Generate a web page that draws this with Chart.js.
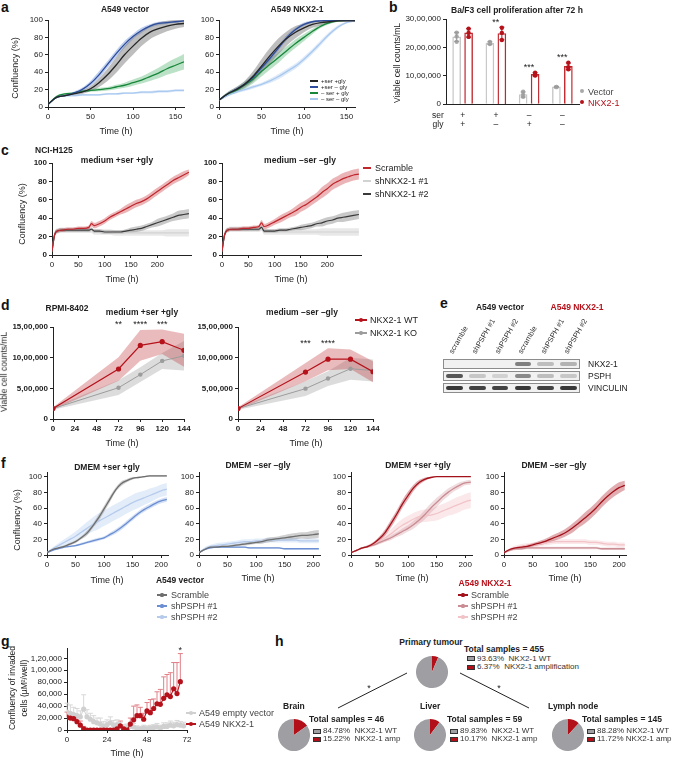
<!DOCTYPE html>
<html>
<head>
<meta charset="utf-8">
<script src="https://cdn.jsdelivr.net/npm/chart.js@4.4.1/dist/chart.umd.min.js"></script>
<style>
  body { margin: 0; background: #fff; }
  #fig { position: relative; width: 676px; height: 758px; overflow: hidden; font-family: "Liberation Sans", Arial, sans-serif; color: #222; }
  #fig canvas { position: absolute; }
  #fig .t { position: absolute; white-space: pre; line-height: 1; }
  #fig .box { position: absolute; box-sizing: border-box; }
</style>
</head>
<body>
<div id="fig"></div>
<script>
// ---------- panel a: A549 confluency ----------
const aTime = [0,10,20,30,40,50,60,70,80,90,100,110,120,130,140,150,160];
const aLegend = ['+ser +gly', '+ser \u2013 gly', '\u2013 ser + gly', '\u2013 ser \u2013 gly'];
const aVecSG   = [3,11,13,15,17,21,28,37,48,60,70,79,86,90,93,95,96];
const aVecSGsd = [1,1,1,1.5,2,3,5,7,9,10,10,9,8,7,6,5,4];
const aVecS    = [3,11,13,16,20,27,37,49,61,72,81,88,93,96,97,98,99];
const aVecSsd  = [1,1,1,1.5,2,3,4,4,4,4,3,3,2,2,1.5,1,1];
const aVecG    = [3,12,15,16,18,19,20,21,23,25,28,31,35,39,44,48,52];
const aVecGsd  = [1,1,1,1,1,1.5,2,2,2.5,3,3.5,4,5,6,7,8,9];
const aVecN    = [3,11,13,13,14,14,14,15,15,16,16,17,17,18,18,19,19];
const aVecNsd  = [1,1,1,1,1,1,1,1,1,1,1,1.5,1.5,1.5,1.5,1.5,1.5];
const aNkxSG   = [8,15,20,26,35,47,59,70,79,86,91,95,97,98,99,99,99];
const aNkxSGsd = [1,2,3,4,6,8,9,9,8,7,5,4,3,2,1,1,1];
const aNkxS    = [8,15,20,26,34,45,56,68,80,89,95,98,99,99.5,99.5,99.5,99.5];
const aNkxSsd  = [1,1,2,2,3,3,3,3,3,2,2,1,1,0.5,0.5,0.5,0.5];
const aNkxG    = [8,15,19,25,32,41,49,57,65,73,80,87,93,97,99,99.5,99.5];
const aNkxGsd  = [1,2,3,4,5,6,6,6,5,5,4,3,2,1.5,1,0.5,0.5];
const aNkxN    = [8,13,17,20,23,26,30,35,41,47,55,64,74,84,92,97,99];
const aNkxNsd  = [1,1,1.5,2,2,2,2.5,3,3,3,3,3,3,2.5,2,1,1];

// ---------- panel b: Ba/F3 counts ----------
const bGroups = ['+ser +gly', '+ser -gly', '-ser +gly', '-ser -gly'];
const bSer = ['+', '+', '\u2013', '\u2013'];
const bGly = ['+', '\u2013', '+', '\u2013'];
const bVector = [2370000, 2150000, 340000, 610000];
const bVectorSd = [160000, 50000, 90000, 10000];
const bNkx = [2510000, 2490000, 1050000, 1330000];
const bNkxSd = [150000, 220000, 60000, 120000];
const bVectorDots = [[2520000,2380000,2200000],[2190000,2150000,2120000],[440000,330000,260000],[610000,610000,600000]];
const bNkxDots = [[2660000,2510000,2370000],[2690000,2510000,2260000],[1110000,1030000,1010000],[1460000,1300000,1230000]];
const bStars = ['', '**', '***', '***'];
const bYTicks = [0, 1000000, 2000000, 3000000];

// ---------- panel c: NCI-H125 ----------
const cTime = [0,5,10,20,30,40,50,60,70,75,80,90,100,110,120,130,140,150,160,170,180,190,200,210,220,230,240,250,260];
const cLegend = ['Scramble', 'shNKX2-1 #1', 'shNKX2-1 #2'];
const cScrL   = [4,22,26,27,28,28,29,29,30,34,32,34,37,41,44,47,50,53,56,58,61,65,69,73,77,81,84,87,90];
const cScrLsd = [1,2,2,2,2,2,2,2,2,3,3,3,3,3,3,3,4,4,4,4,4,4,4,4,4,4,4,4,3];
const cSh1L   = [4,22,26,27,27,27,27,27,27,27,25,25,25,25,24,24,24,24,24,24,24,24,24,24,24,24,24,24,24];
const cSh1Lsd = [1,3,3,3,3,3,3,3,3,3,3,3,3,3,3,3,3,3,3,3,3,3,3,3,4,4,4,4,4];
const cSh2L   = [4,22,26,27,27,27,27,27,27,28,26,26,25,25,25,25,26,27,28,29,31,33,35,37,39,41,43,44,45];
const cSh2Lsd = [1,2,2,2,2,2,2,2,2,2,2,2,2,2,2,2,2,3,3,3,3,3,4,4,4,4,5,5,5];
const cScrR   = [4,22,27,28,28,29,29,30,31,35,31,33,36,39,42,45,48,52,55,59,63,68,72,77,80,83,85,87,88];
const cScrRsd = [1,2,2,2,2,2,2,2,2,3,3,3,3,4,4,4,5,5,5,5,5,6,6,6,6,6,6,6,6];
const cSh1R   = [4,22,27,28,28,28,28,28,28,29,25,25,25,25,25,25,25,25,25,25,25,25,25,25,25,25,25,25,25];
const cSh1Rsd = [1,3,3,3,3,3,3,3,3,3,3,3,3,3,3,3,3,3,3,3,3,4,4,4,4,4,4,4,4];
const cSh2R   = [4,22,27,28,28,28,28,28,28,30,26,26,26,27,27,28,29,30,31,32,34,35,37,38,40,41,42,43,44];
const cSh2Rsd = [1,2,2,2,2,2,2,2,2,2,2,2,2,2,2,2,2,3,3,3,3,4,4,4,4,5,5,5,5];

// ---------- panel d: RPMI-8402 ----------
const dTime = [0, 72, 96, 120, 144];
const dLegend = ['NKX2-1 WT', 'NKX2-1 KO'];
const dWtPlus    = [170000, 815000, 1200000, 1260000, 1120000];
const dWtPlusSd  = [20000, 190000, 250000, 200000, 270000];
const dKoPlus    = [170000, 510000, 724000, 947000, 1030000];
const dKoPlusSd  = [20000, 120000, 120000, 130000, 240000];
const dWtMinus   = [170000, 765000, 975000, 975000, 770000];
const dWtMinusSd = [20000, 150000, 180000, 160000, 170000];
const dKoMinus   = [170000, 495000, 660000, 820000, 790000];
const dKoMinusSd = [20000, 120000, 120000, 180000, 180000];
const dStarsPlus  = ['', '**', '****', '***', ''];
const dStarsMinus = ['', '***', '****', '', ''];
const dYTicks = [0, 500000, 1000000, 1500000];
const dXTicks = [0, 24, 48, 72, 96, 120, 144];

// ---------- panel e: blot ----------
const eLanes = ['scramble', 'shPSPH #1', 'shPSPH #2', 'scramble', 'shPSPH #1', 'shPSPH #2'];
const eRows = ['NKX2-1', 'PSPH', 'VINCULIN'];
const eSignal = [[0,0,0,0.55,0.25,0.3],[0.75,0.2,0.15,0.5,0.25,0.2],[0.9,0.85,0.85,0.9,0.85,0.9]];

// ---------- panel f: shPSPH confluency ----------
const fTime = [0,10,20,30,40,50,60,70,80,90,100,110,120,130,140,150,160,170,180,190,200,210];
const fLegend = ['Scramble', 'shPSPH #1', 'shPSPH #2'];
const f1Scr   = [3,7,9,11,14,17,22,28,37,47,59,71,83,91,95,98,99,100,101,101,101,101];
const f1ScrSd = [0.5,1,1,1,1.5,2,2,3,3,4,4,4,3,3,2,1.5,1,1,1,1,1,1];
const f1Sh1   = [3,6,8,10,11,12,14,16,18,20,22,26,30,35,41,47,53,58,62,66,69,71];
const f1Sh1Sd = [0.5,1,1,1,1,1,1.5,1.5,2,2,2,2.5,3,3,3,3,3,3,3,3,3,3];
const f1Sh2   = [3,8,12,16,20,24,29,34,39,43,47,51,55,59,63,67,70,73,76,79,82,84];
const f1Sh2Sd = [1,2,3,4,5,6,7,8,9,10,10,10,10,10,10,10,10,9,9,8,8,8];
const f2Scr   = [3,7,10,10,11,11,12,13,14,15,16,17,19,20,21,22,23,24,25,25,26,27];
const f2ScrSd = [0.5,1,1,1,1,1,1.5,1.5,2,2,2,2.5,3,3,3,3.5,4,4,4,4.5,5,5];
const f2Sh1   = [3,7,9,10,10,10,10,10,10,9,9,9,9,9,9,8,8,8,8,8,8,8];
const f2Sh1Sd = [0.5,1,1,1,1,1,1,1,1,1,1,1,1,1,1,1,1,1,1,1,1,1];
const f2Sh2   = [3,8,11,12,13,14,15,16,17,17,18,18,19,19,19,19,19,19,18,18,18,18];
const f2Sh2Sd = [1,2,2,3,3,3,3,3,3,3,3,3,3,3,3,3,3,3,3,3,3,3];
const f3Scr   = [3,6,9,11,15,21,29,40,52,65,76,86,93,97,99,100,100,100,100,100,100,100];
const f3ScrSd = [0.5,1,1,1.5,2,3,4,5,5,5,5,4,3,2,1,0.5,0.5,0.5,0.5,0.5,0.5,0.5];
const f3Sh1   = [3,6,9,11,13,16,19,22,26,30,34,39,45,52,60,67,74,80,85,89,92,93];
const f3Sh1Sd = [0.5,1,1,1,1.5,2,2,3,3,4,4,5,5,6,6,6,5,5,4,4,3,3];
const f3Sh2   = [3,6,9,11,14,18,22,27,33,38,42,46,49,50,51,53,56,59,62,65,68,70];
const f3Sh2Sd = [0.5,1,1,2,3,4,5,6,7,8,8,8,8,8,8,9,9,9,10,10,10,10];
const f4Scr   = [3,7,9,10,11,13,15,17,20,23,26,30,35,41,47,53,60,68,75,81,86,89];
const f4ScrSd = [0.5,1,1,1.5,2,2,2.5,3,3.5,4,4.5,5,6,6,7,7,7,7,7,7,7,6];
const f4Sh1   = [3,6,8,8,9,9,9,9,9,9,9,9,9,9,9,9,9,8,8,8,8,8];
const f4Sh1Sd = [1,1.5,1.5,1.5,1.5,1.5,1.5,1.5,1.5,1.5,1.5,1.5,1.5,1.5,1.5,1.5,1.5,1.5,1.5,1.5,1.5,1.5];
const f4Sh2   = [3,7,9,11,12,13,14,15,16,17,17,17,17,17,17,16,16,15,14,14,13,13];
const f4Sh2Sd = [1,2,3,3,3,3,3,3,3,3,3,3,3,3,3,3,3,3,3,3,3,3];

// ---------- panel g: invasion ----------
const gTime = [0,2,4,6,8,10,12,14,16,18,20,22,24,26,28,30,32,34,36,38,40,42,44,46,48,50,52,54,56,58,60,62,64,66,68,70];
const gLegend = ['A549 empty vector', 'A549 NKX2-1'];
const gNkx = [21000,20000,19000,14000,8000,2000,0,0,0,0, 0,0,0,0,0,2000,7000,2000,0,10000,
  17000,24000,24000,18000,32000,29000,36000,44000,43000,53000, 59000,56000,69000,61000,81000,null];
const gNkxErr = [9000,9000,8000,9000,7000,4000,2000,2000,2000,2000, 2000,2000,2000,2000,2000,4000,8000,4000,2000,10000,
  23000,18000,14000,10000,14000,22000,16000,20000,25000,36000, 34000,40000,44000,52000,47000,null];
const gVec = [30000,28000,26000,24000,22000,35000,22000,18000,14000,12000, 10000,6000,9000,12000,8000,9000,6000,3000,4000,6000,
  5000,2000,1000,3000,2000,3000,4000,5000,3000,6000, 6000,8000,7000,9000,8000,7000];
const gVecErr = [15000,14000,12000,12000,10000,24000,12000,10000,10000,8000, 10000,8000,8000,10000,8000,8000,7000,6000,6000,7000,
  6000,5000,5000,5000,5000,5000,5000,6000,5000,6000, 6000,7000,6000,7000,6000,6000];
const gYTicks = [0,20000,40000,60000,80000,100000,120000];
const gXTicks = [0,24,48,72];
const gSigTime = 68;

// ---------- panel h: pies ----------
const hSites = ['Primary tumour', 'Brain', 'Liver', 'Lymph node'];
const hTotals = [455, 46, 59, 145];
const hWt = [93.63, 84.78, 89.83, 88.28];
const hAmp = [6.37, 15.22, 10.17, 11.72];

// ---------- helpers ----------
const fig = document.getElementById('fig');
Chart.defaults.font.family = '"Liberation Sans", Arial, sans-serif';
Chart.defaults.font.size = 8;
Chart.defaults.color = '#222';
Chart.defaults.animation = false;
Chart.defaults.events = [];
Chart.defaults.plugins.legend.display = false;
Chart.defaults.plugins.tooltip.enabled = false;

function mk(x, y, w, h) {
  const c = document.createElement('canvas');
  c.width = w; c.height = h;
  c.style.left = x + 'px'; c.style.top = y + 'px';
  c.style.width = w + 'px'; c.style.height = h + 'px';
  fig.appendChild(c);
  return c;
}
function txt(s, x, y, o = {}) {
  const d = document.createElement('div');
  d.className = 't';
  d.textContent = s;
  d.style.left = x + 'px';
  d.style.top = y + 'px';
  d.style.fontSize = (o.size || 9) + 'px';
  if (o.bold) d.style.fontWeight = 'bold';
  if (o.color) d.style.color = o.color;
  const ax = o.align === 'l' ? '0' : o.align === 'r' ? '-100%' : '-50%';
  d.style.transform = 'translate(' + ax + ',-50%)' + (o.rot ? ' rotate(' + o.rot + 'deg)' : '');
  fig.appendChild(d);
  return d;
}
function rect(x, y, w, h, css) {
  const d = document.createElement('div');
  d.className = 'box';
  d.style.cssText = 'left:' + x + 'px;top:' + y + 'px;width:' + w + 'px;height:' + h + 'px;' + (css || '');
  fig.appendChild(d);
  return d;
}
function legLine(x1, x2, y, color, dot) {
  rect(x1, y - 0.75, x2 - x1, 1.5, 'background:' + color);
  if (dot) rect((x1 + x2) / 2 - dot, y - dot, dot * 2, dot * 2, 'border-radius:50%;background:' + color);
}
function indian(v) {
  const s = String(Math.round(v));
  if (s.length <= 3) return s;
  let rest = s.slice(0, -3);
  const parts = [];
  while (rest.length > 2) { parts.unshift(rest.slice(-2)); rest = rest.slice(0, -2); }
  if (rest) parts.unshift(rest);
  return parts.join(',') + ',' + s.slice(-3);
}
function linAxis(min, max, ticks, o) {
  return {
    type: 'linear', min, max,
    afterBuildTicks: s => { s.ticks = ticks.map(v => ({ value: v })); },
    afterFit: s => { if (o.w != null) s.width = o.w; if (o.h != null) s.height = o.h; },
    grid: { drawOnChartArea: false, color: '#222', tickLength: 3 },
    border: { color: '#222', width: 1 },
    ticks: { autoSkip: false, maxRotation: 0, padding: 2, color: '#222',
      font: { size: o.size || 8, weight: o.bold ? 'bold' : 'normal' },
      callback: o.fmt || (v => String(v)) }
  };
}

// error bars drawn through the chart's own y scale
function drawErrors(chart, behind) {
  const ctx = chart.ctx;
  chart.data.datasets.forEach((ds, di) => {
    if (!ds.errors || !!ds.errorsBehind !== behind) return;
    const meta = chart.getDatasetMeta(di);
    const ys = chart.scales[meta.yAxisID];
    ctx.save();
    ctx.strokeStyle = ds.errorColor;
    ctx.lineWidth = 1;
    meta.data.forEach((el, i) => {
      const raw = ds.data[i];
      const v = raw !== null && typeof raw === 'object' ? raw.y : raw;
      const e = ds.errors[i];
      if (v == null || e == null) return;
      const top = ys.getPixelForValue(v + e);
      const bot = ys.getPixelForValue(ds.errorsUp ? v : v - e);
      const cap = ds.errorCap || 2.5;
      ctx.beginPath();
      ctx.moveTo(el.x, bot); ctx.lineTo(el.x, top);
      ctx.moveTo(el.x - cap, top); ctx.lineTo(el.x + cap, top);
      if (!ds.errorsUp) { ctx.moveTo(el.x - cap, bot); ctx.lineTo(el.x + cap, bot); }
      ctx.stroke();
    });
    ctx.restore();
  });
}
const errorBars = {
  id: 'errorBars',
  beforeDatasetsDraw(chart) { drawErrors(chart, true); },
  afterDatasetsDraw(chart) { drawErrors(chart, false); }
};

// mean line + shaded band chart; box is the plot area, m the margins around it
function bandChart(box, m, t, xr, yr, series, o = {}) {
  const [l, tp, r, b] = box, [ml, mt, mr, mb] = m;
  const cv = mk(l - ml, tp - mt, r - l + ml + mr, b - tp + mt + mb);
  const pts = arr => arr.map((v, i) => ({ x: t[i], y: v }));
  const ds = [];
  series.forEach(s => ds.push({ data: pts(s.y), borderColor: s.c, backgroundColor: s.c,
    borderWidth: s.w || 1.3, pointRadius: s.pr || 0, pointBorderWidth: 0, fill: false, order: 1 }));
  series.forEach(s => {
    ds.push({ data: pts(s.y.map((v, i) => v + s.sd[i])), borderColor: 'transparent', borderWidth: 0,
      pointRadius: 0, fill: '+1', backgroundColor: s.band, order: 2 });
    ds.push({ data: pts(s.y.map((v, i) => v - s.sd[i])), borderColor: 'transparent', borderWidth: 0,
      pointRadius: 0, fill: false, order: 2 });
  });
  const chart = new Chart(cv, {
    type: 'line',
    data: { datasets: ds },
    options: {
      responsive: false,
      layout: { padding: { left: 0, top: mt, right: mr, bottom: 0 } },
      elements: { line: o.straight ? { tension: 0 } : { cubicInterpolationMode: 'monotone' } },
      scales: {
        x: linAxis(xr[0], xr[1], xr[2], { h: mb, bold: o.xBold }),
        y: linAxis(yr[0], yr[1], yr[2], { w: ml, bold: o.yBold, fmt: o.yFmt })
      }
    }
  });
  chart.left = l - ml; chart.top = tp - mt;
  return chart;
}

// ---------- panel letters ----------
[['a', 1, 7], ['b', 389, 7], ['c', 1, 150], ['d', 1, 305], ['e', 440, 303], ['f', 1, 463], ['g', 1, 641], ['h', 275, 641]]
  .forEach(([s, x, y]) => txt(s, x, y, { bold: true, size: 14, align: 'l', color: '#111' }));

// ---------- a ----------
const aColors = ['#262626', '#2d4c9c', '#17873a', '#a9c9ef'];
const aBands = ['rgba(110,110,110,0.45)', 'rgba(95,135,215,0.4)', 'rgba(60,170,95,0.35)', 'rgba(170,200,240,0.4)'];
const aSets = [[aVecSG, aVecSGsd, aVecS, aVecSsd, aVecG, aVecGsd, aVecN, aVecNsd],
               [aNkxSG, aNkxSGsd, aNkxS, aNkxSsd, aNkxG, aNkxGsd, aNkxN, aNkxNsd]];
const aBoxes = [[48, 20, 184, 107], [219, 20, 355, 107]];
aSets.forEach((set, k) => {
  const series = [0, 1, 2, 3].map(j => ({ y: set[2 * j], sd: set[2 * j + 1], c: aColors[j], band: aBands[j] }));
  bandChart(aBoxes[k], [40, 8, 8, 28], aTime, [0, 160, [0, 50, 100, 150]], [0, 100, [0, 20, 40, 60, 80, 100]], series);
});
txt('A549 vector', 125, 9, { bold: true, size: 8.5 });
txt('A549 NKX2-1', 297, 9, { bold: true, size: 8.5 });
txt('Confluency (%)', 15, 68, { rot: -90 });
txt('Time (h)', 116, 131);
txt('Time (h)', 287, 131);
aLegend.forEach((s, j) => {
  const y = 81 + j * 6;
  legLine(310, 318, y, aColors[j]);
  txt(s, 321, y, { size: 6, align: 'l' });
});

// ---------- b ----------
const bOff = 0.18;
const bDots = [], bDotCol = [];
bVectorDots.forEach((g, i) => g.forEach(v => { bDots.push({ x: i - bOff, y: v }); bDotCol.push('#a8a8a8'); }));
bNkxDots.forEach((g, i) => g.forEach(v => { bDots.push({ x: i + bOff, y: v }); bDotCol.push('#b5121b'); }));
const bL = 446 - 52, bT = 19 - 7;
const bChart = new Chart(mk(bL, bT, 579 - 446 + 52 + 4, 107 - 19 + 7 + 4), {
  type: 'bar',
  data: {
    datasets: [
      { type: 'scatter', data: bDots, pointRadius: 2.2, pointBorderWidth: 0, backgroundColor: bDotCol, order: 0 },
      { label: 'Vector', data: bVector.map((v, i) => ({ x: i - bOff, y: v })), errors: bVectorSd, errorColor: '#9a9a9a',
        backgroundColor: '#fff', borderColor: '#c6c6c6', borderWidth: 1.4, barThickness: 8, grouped: false, order: 1 },
      { label: 'NKX2-1', data: bNkx.map((v, i) => ({ x: i + bOff, y: v })), errors: bNkxSd, errorColor: '#b5121b',
        backgroundColor: '#fff', borderColor: '#c0282e', borderWidth: 1.4, barThickness: 8, grouped: false, order: 1 }
    ]
  },
  options: {
    responsive: false,
    layout: { padding: { left: 0, top: 7, right: 4, bottom: 0 } },
    scales: {
      x: { type: 'linear', min: -0.5, max: 3.5, offset: false, afterFit: s => { s.height = 4; },
        grid: { display: false, offset: false }, ticks: { display: false }, border: { color: '#222' } },
      y: linAxis(0, 3000000, bYTicks, { w: 52, fmt: indian })
    }
  },
  plugins: [errorBars]
});
txt('Ba/F3 cell proliferation after 72 h', 517, 10, { bold: true, size: 8.5 });
txt('Viable cell counts/mL', 397, 63, { rot: -90, size: 8.5 });
txt('ser', 438, 115, { size: 8.5 });
txt('gly', 438, 124, { size: 8.5 });
bGroups.forEach((g, i) => {
  const px = bL + bChart.scales.x.getPixelForValue(i);
  txt(bSer[i], px, 115, { size: 8.5 });
  txt(bGly[i], px, 124, { size: 8.5 });
  if (bStars[i]) {
    const top = Math.max(...bVectorDots[i], ...bNkxDots[i]);
    txt(bStars[i], px, bT + bChart.scales.y.getPixelForValue(top) - 6, { size: 9 });
  }
});
rect(580, 89, 4, 4, 'border-radius:50%;background:#a8a8a8');
txt('Vector', 588, 91.5, { align: 'l', size: 9, color: '#444' });
rect(580, 100, 4, 4, 'border-radius:50%;background:#b5121b');
txt('NKX2-1', 588, 102.5, { align: 'l', size: 9, color: '#b5121b' });

// ---------- c ----------
const cColors = ['#c0262d', '#d2d2d2', '#3a3a3a'];
const cBands = ['rgba(205,70,75,0.4)', 'rgba(205,205,205,0.45)', 'rgba(120,120,120,0.4)'];
const cSets = [[cScrL, cScrLsd, cSh1L, cSh1Lsd, cSh2L, cSh2Lsd], [cScrR, cScrRsd, cSh1R, cSh1Rsd, cSh2R, cSh2Rsd]];
const cBoxes = [[52, 163, 191, 255], [222, 163, 361, 255]];
cSets.forEach((set, k) => {
  const series = [0, 2, 1].map(j => ({ y: set[2 * j], sd: set[2 * j + 1], c: cColors[j], band: cBands[j], w: 1.2 }));
  bandChart(cBoxes[k], [44, 8, 8, 26], cTime, [0, 264, [0, 50, 100, 150, 200]], [0, 100, [0, 20, 40, 60, 80, 100]], series, { yBold: true });
});
txt('NCI-H125', 35, 150, { bold: true, size: 8.5, align: 'l' });
txt('medium +ser +gly', 117, 160, { bold: true, size: 8.5 });
txt('medium \u2013ser \u2013gly', 300, 160, { bold: true, size: 8.5 });
txt('Confluency (%)', 22, 214, { rot: -90 });
txt('Time (h)', 122, 279);
txt('Time (h)', 291, 279);
cLegend.forEach((s, j) => {
  const y = [168, 181, 194][j];
  legLine(363, 371, y, cColors[j]);
  txt(s, 375, y, { size: 9, align: 'l' });
});

// ---------- d ----------
const dSets = [[dWtPlus, dWtPlusSd, dKoPlus, dKoPlusSd, dStarsPlus], [dWtMinus, dWtMinusSd, dKoMinus, dKoMinusSd, dStarsMinus]];
const dBoxes = [[53, 327, 184, 419], [238, 327, 373, 419]];
dSets.forEach((set, k) => {
  const series = [
    { y: set[0], sd: set[1], c: '#b5121b', band: 'rgba(195,60,65,0.35)', w: 1.2, pr: 2.6 },
    { y: set[2], sd: set[3], c: '#9c9c9c', band: 'rgba(150,150,150,0.33)', w: 1, pr: 2.2 }
  ];
  const ch = bandChart(dBoxes[k], [52, 8, 12, 26], dTime, [0, 144, dXTicks], [0, 1500000, dYTicks], series,
    { straight: true, xBold: true, yBold: true, yFmt: indian });
  const ys = ch.scales.y, xs = ch.scales.x;
  const stars = set[4];
  let row = Infinity;
  stars.forEach((s, i) => { if (s) row = Math.min(row, ys.getPixelForValue(set[0][i] + set[1][i])); });
  stars.forEach((s, i) => { if (s) txt(s, ch.left + xs.getPixelForValue(dTime[i]), ch.top + row - 5, { size: 9 }); });
});
txt('RPMI-8402', 67, 308, { bold: true, size: 8.5 });
txt('medium +ser +gly', 142, 312, { bold: true, size: 8.5 });
txt('medium \u2013ser \u2013gly', 302, 312, { bold: true, size: 8.5 });
txt('Viable cell counts/mL', 4, 372, { rot: -90, size: 8.5 });
txt('Time (h)', 122, 443);
txt('Time (h)', 306, 443);
legLine(355, 367, 320, '#b5121b', 2);
txt(dLegend[0], 370, 320, { size: 9, align: 'l' });
legLine(355, 367, 333, '#9c9c9c', 1.8);
txt(dLegend[1], 370, 333, { size: 9, align: 'l' });

// ---------- e (blot image) ----------
const eX = 443, eW = 137, eLaneW = eW / 6, eRowY = [359, 371, 383];
txt('A549 vector', 500, 307, { bold: true, size: 8.5 });
txt('A549 NKX2-1', 577, 307, { bold: true, size: 8.5, color: '#b5121b' });
eLanes.forEach((s, i) => {
  const d = txt(s, eX + eLaneW * (i + 0.5) - 3, 353, { align: 'l', size: 7.5, color: '#333' });
  d.style.transformOrigin = '0 50%';
  d.style.transform = 'translate(0,-50%) rotate(-60deg)';
});
eRows.forEach((name, r) => {
  const y = eRowY[r];
  rect(eX, y, eW, 10, 'background:#f1f1f1;border:1px solid #8c8c8c');
  eSignal[r].forEach((v, i) => {
    if (!v) return;
    rect(eX + eLaneW * i + 3, y + 3, eLaneW - 6, 4,
      'background:rgba(35,35,35,' + v + ');border-radius:2px;filter:blur(0.6px)');
  });
  txt(name, 588, y + 5, { align: 'l', size: 8.5 });
});

// ---------- f ----------
const fVecCol = ['#6e6e6e', '#6b8fd2', '#b6cbec'];
const fVecBand = ['rgba(120,120,120,0.35)', 'rgba(110,150,220,0.3)', 'rgba(175,202,240,0.35)'];
const fNkxCol = ['#a3121b', '#c98d93', '#f2c4c8'];
const fNkxBand = ['rgba(180,50,60,0.4)', 'rgba(205,140,148,0.3)', 'rgba(242,190,195,0.35)'];
const fSets = [
  [[f1Scr, f1ScrSd, f1Sh1, f1Sh1Sd, f1Sh2, f1Sh2Sd], fVecCol, fVecBand, [47, 472, 168, 555]],
  [[f2Scr, f2ScrSd, f2Sh1, f2Sh1Sd, f2Sh2, f2Sh2Sd], fVecCol, fVecBand, [199, 472, 320, 555]],
  [[f3Scr, f3ScrSd, f3Sh1, f3Sh1Sd, f3Sh2, f3Sh2Sd], fNkxCol, fNkxBand, [351, 472, 472, 555]],
  [[f4Scr, f4ScrSd, f4Sh1, f4Sh1Sd, f4Sh2, f4Sh2Sd], fNkxCol, fNkxBand, [504, 472, 626, 555]]
];
fSets.forEach(([set, cols, bands, box]) => {
  const series = [0, 1, 2].map(j => ({ y: set[2 * j], sd: set[2 * j + 1], c: cols[j], band: bands[j] }));
  bandChart(box, [36, 6, 8, 26], fTime, [0, 212, [0, 50, 100, 150, 200]], [0, 105, [0, 20, 40, 60, 80, 100]], series);
});
txt('DMEM +ser +gly', 107, 467, { bold: true, size: 8.5 });
txt('DMEM \u2013ser \u2013gly', 258, 465, { bold: true, size: 8.5 });
txt('DMEM +ser +gly', 418, 465, { bold: true, size: 8.5 });
txt('DMEM \u2013ser \u2013gly', 554, 465, { bold: true, size: 8.5 });
txt('Confluency (%)', 17, 520, { rot: -90 });
[[107, 580], [258, 578], [412, 578], [565, 578]].forEach(([x, y]) => txt('Time (h)', x, y));
txt('A549 vector', 180, 580, { bold: true, size: 8.5 });
txt('A549 NKX2-1', 485, 583, { bold: true, size: 8.5, color: '#b5121b' });
fLegend.forEach((s, j) => {
  const y = 595 + j * 11;
  legLine(157, 167, y, fVecCol[j], 1.6);
  txt(s, 171, y, { size: 9, align: 'l', color: '#444' });
  legLine(458, 468, y, fNkxCol[j], 1.6);
  txt(s, 471, y, { size: 9, align: 'l', color: '#444' });
});

// ---------- g ----------
const gPts = arr => arr.map((v, i) => ({ x: gTime[i], y: v }));
const gL = 67 - 54, gT = 648 - 6;
const gChart = new Chart(mk(gL, gT, 187 - 67 + 54 + 10, 730 - 648 + 6 + 24), {
  type: 'line',
  data: {
    datasets: [
      { data: gPts(gNkx), errors: gNkxErr, errorColor: '#e08088', errorsUp: true, errorsBehind: true, errorCap: 2.5,
        borderColor: '#b5121b', backgroundColor: '#b5121b', pointRadius: 2.6, pointBorderWidth: 0, borderWidth: 1.1, order: 1 },
      { data: gPts(gVec), errors: gVecErr, errorColor: '#d8d8d8', errorsUp: true, errorsBehind: true, errorCap: 2.5,
        borderColor: '#d6d6d6', backgroundColor: '#d0d0d0', pointRadius: 2.6, pointBorderWidth: 0, borderWidth: 1.1, order: 2 }
    ]
  },
  options: {
    responsive: false,
    layout: { padding: { left: 0, top: 6, right: 10, bottom: 0 } },
    scales: {
      x: linAxis(0, 72, gXTicks, { h: 24 }),
      y: linAxis(0, 136000, gYTicks, { w: 54, fmt: indian })
    }
  },
  plugins: [errorBars]
});
{
  const i = gTime.indexOf(gSigTime);
  txt('*', gL + gChart.scales.x.getPixelForValue(gSigTime), gT + gChart.scales.y.getPixelForValue(gNkx[i] + gNkxErr[i]) - 4, { size: 9 });
}
txt('Confluency of invaded', 12, 688, { rot: -90, size: 8.5 });
txt('cells (\u00b5M\u00b2/well)', 24, 688, { rot: -90, size: 8.5 });
txt('Time (h)', 127, 753);
legLine(186, 196, 713, '#d0d0d0', 2.2);
txt(gLegend[0], 199, 713, { size: 9, align: 'l', color: '#444' });
legLine(186, 196, 724, '#b5121b', 2.2);
txt(gLegend[1], 199, 724, { size: 9, align: 'l', color: '#444' });

// ---------- h ----------
function pie(cx, cy, r, vals) {
  new Chart(mk(cx - r, cy - r, 2 * r, 2 * r), {
    type: 'pie',
    data: { datasets: [{ data: vals, backgroundColor: ['#b30f19', '#9e9ea3'], borderWidth: 0 }] },
    options: { responsive: false, layout: { padding: 0 } }
  });
}
const hPies = [[432, 672], [294, 735], [430, 735], [568, 735]];
const hTitle = [[431, 642, 'c'], [283, 706, 'l'], [420, 706, 'l'], [548, 706, 'l']];
const hTotalPos = [[464, 649], [309, 719], [447, 719], [582, 719]];
const hBoxX = [467, 313, 450, 587];
const hAmpLabel = ['NKX2-1 amplification', 'NKX2-1 amp', 'NKX2-1 amp', 'NKX2-1 amp'];
const hSep = ['  ', '  ', '  ', ' '];
hSites.forEach((s, k) => {
  pie(hPies[k][0], hPies[k][1], 16, [hAmp[k], hWt[k]]);
  txt(s, hTitle[k][0], hTitle[k][1], { bold: true, size: 8.5, align: hTitle[k][2] });
  txt('Total samples = ' + hTotals[k], hTotalPos[k][0], hTotalPos[k][1], { bold: true, size: 8.5, align: 'l' });
  const y0 = hTotalPos[k][1] + (k === 0 ? 9.5 : 12);
  const gap = k === 0 ? 8.5 : 8;
  rect(hBoxX[k], y0 - 2.5, 8, 5, 'background:#a0a0a4;border:1px solid #333');
  txt(hWt[k].toFixed(2) + '%' + hSep[k] + 'NKX2-1 WT', hBoxX[k] + 10, y0, { size: 8, align: 'l', color: '#333' });
  rect(hBoxX[k], y0 + gap - 2.5, 8, 5, 'background:#b30f19;border:1px solid #333');
  txt(hAmp[k].toFixed(2) + '%' + hSep[k] + hAmpLabel[k], hBoxX[k] + 10, y0 + gap, { size: 8, align: 'l', color: '#333' });
});
{
  const svg = document.createElementNS('http://www.w3.org/2000/svg', 'svg');
  svg.setAttribute('width', 676); svg.setAttribute('height', 758);
  svg.style.cssText = 'position:absolute;left:0;top:0;pointer-events:none';
  [[407, 673, 338, 708], [460, 673, 529, 708]].forEach(([x1, y1, x2, y2]) => {
    const ln = document.createElementNS('http://www.w3.org/2000/svg', 'line');
    ln.setAttribute('x1', x1); ln.setAttribute('y1', y1); ln.setAttribute('x2', x2); ln.setAttribute('y2', y2);
    ln.setAttribute('stroke', '#222'); ln.setAttribute('stroke-width', '1');
    svg.appendChild(ln);
  });
  fig.appendChild(svg);
  txt('*', 369, 688, { size: 9 });
  txt('*', 499, 688, { size: 9 });
}
</script>
</body>
</html>
